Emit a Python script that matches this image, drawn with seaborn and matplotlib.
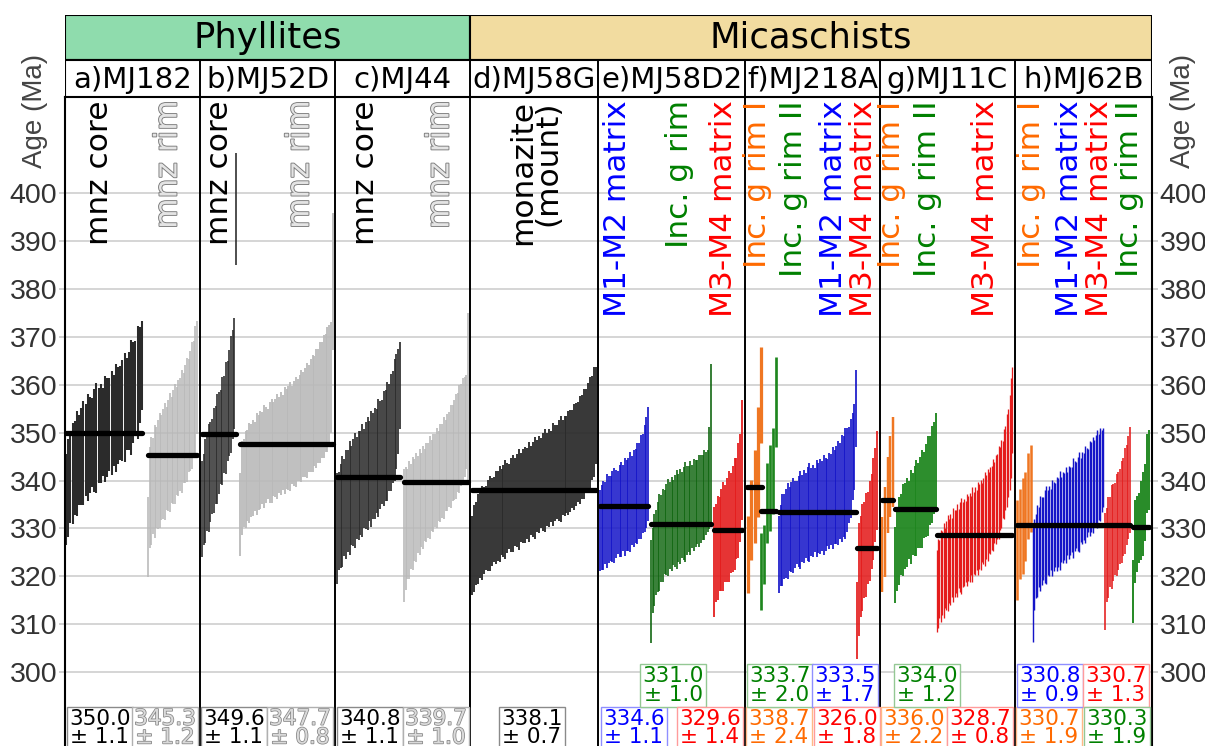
import numpy as np
import pandas as pd
import matplotlib
matplotlib.use("Agg")
import matplotlib.pyplot as plt
import matplotlib.patheffects as pe
from matplotlib.patches import Rectangle
import seaborn as sns

# ---------------- data: ranked spot ages (Ma) and 2-sigma half-widths ----------------
panels = ["a)MJ182", "b)MJ52D", "c)MJ44", "d)MJ58G", "e)MJ58D2", "f)MJ218A", "g)MJ11C", "h)MJ62B"]
rock_types = ["Phyllites", "Micaschists"]
y_ticks = [300, 310, 320, 330, 340, 350, 360, 370, 380, 390, 400]

a_core_age = [336.0, 338.5, 340.2, 341.5, 342.6, 343.5, 344.3, 345.0, 345.7, 346.3, 346.9, 347.4, 347.9, 348.4,
              348.9, 349.3, 349.8, 350.2, 350.7, 351.1, 351.6, 352.0, 352.5, 353.0, 353.5, 354.0, 354.6, 355.2,
              355.9, 356.6, 357.4, 358.3, 359.3, 360.5, 362.0, 364.0]
a_core_err = [9.5, 10.2, 9.0, 10.5, 9.8, 11.0, 9.4, 10.1, 10.8, 9.6, 11.2, 10.0, 9.3, 10.7, 11.5, 9.9, 10.4, 9.2,
              11.0, 10.3, 9.7, 10.9, 9.5, 11.3, 10.1, 9.8, 10.6, 11.4, 9.6, 10.2, 12.0, 10.5, 9.9, 11.8, 10.0, 9.2]
a_rim_age = [328.2, 336.5, 337.8, 338.9, 339.8, 340.6, 341.3, 342.0, 342.7, 343.4, 344.0, 344.6, 345.2, 345.8,
             346.4, 347.0, 347.6, 348.2, 348.9, 349.6, 350.3, 351.0, 351.8, 352.6, 353.5, 354.5, 355.6, 357.0,
             358.8, 361.5]
a_rim_err = [8.4, 10.5, 11.2, 10.0, 11.8, 10.6, 11.4, 12.0, 10.9, 11.5, 12.2, 10.8, 11.6, 12.4, 11.1, 11.9, 12.6,
             11.3, 12.1, 11.7, 12.8, 11.5, 12.3, 13.0, 11.8, 12.5, 13.2, 12.0, 13.4, 11.8]
b_core_age = [334.0, 336.0, 337.8, 339.2, 340.5, 341.8, 343.0, 344.2, 345.4, 346.6, 347.8, 349.0, 350.3, 351.6,
              353.0, 354.5, 356.2, 358.0, 360.0, 362.3, 396.6]
b_core_err = [10.0, 9.5, 10.8, 9.8, 11.2, 10.4, 9.9, 11.0, 10.2, 11.5, 10.6, 9.8, 11.3, 10.1, 11.7, 10.5, 11.0,
              12.2, 11.4, 11.6, 11.7]
b_rim_age = [332.9, 338.5, 339.5, 340.3, 341.0, 341.6, 342.1, 342.6, 343.0, 343.4, 343.8, 344.2, 344.6, 345.0,
             345.3, 345.6, 345.9, 346.2, 346.5, 346.8, 347.1, 347.4, 347.7, 348.0, 348.3, 348.6, 348.9, 349.2,
             349.5, 349.8, 350.1, 350.5, 350.9, 351.3, 351.7, 352.1, 352.5, 353.0, 353.5, 354.0, 354.5, 355.0,
             355.6, 356.2, 356.8, 357.5, 358.2, 359.0, 360.0, 361.5, 381.5]
b_rim_err = [8.7, 9.8, 9.2, 10.1, 9.5, 10.4, 9.7, 10.0, 9.3, 10.6, 9.9, 10.2, 9.6, 10.8, 10.0, 9.4, 10.5, 10.9,
             9.8, 10.3, 11.0, 10.1, 10.7, 9.9, 11.2, 10.4, 10.8, 11.3, 10.2, 11.0, 11.5, 10.6, 11.1, 11.7, 10.9,
             11.4, 12.0, 11.2, 11.8, 12.2, 11.5, 12.4, 11.9, 12.6, 12.1, 12.9, 12.3, 13.0, 12.5, 11.5, 14.2]
c_core_age = [330.0, 331.5, 332.6, 333.5, 334.3, 335.0, 335.7, 336.3, 336.9, 337.5, 338.0, 338.5, 339.0, 339.5,
              340.0, 340.5, 341.0, 341.5, 342.0, 342.5, 343.0, 343.5, 344.1, 344.7, 345.3, 345.9, 346.6, 347.3,
              348.1, 349.0, 350.0, 351.2, 352.6, 354.3, 356.5, 359.8]
c_core_err = [11.5, 10.2, 10.8, 11.6, 10.1, 11.3, 10.7, 11.9, 10.4, 11.1, 12.0, 10.6, 11.4, 10.9, 11.7, 10.3,
              11.2, 11.8, 10.5, 12.1, 11.0, 11.6, 10.8, 12.3, 11.3, 10.9, 12.0, 11.5, 12.4, 11.1, 12.2, 11.7,
              12.8, 12.0, 11.0, 9.1]
c_rim_age = [328.5, 330.0, 331.0, 331.8, 332.5, 333.2, 333.8, 334.4, 335.0, 335.5, 336.0, 336.5, 337.0, 337.5,
             338.0, 338.5, 339.0, 339.5, 340.0, 340.5, 341.0, 341.5, 342.0, 342.6, 343.2, 343.8, 344.4, 345.0,
             345.7, 346.4, 347.1, 347.9, 348.7, 349.5, 350.3, 351.2, 352.2, 357.5]
c_rim_err = [13.9, 12.8, 11.5, 12.3, 10.9, 11.8, 10.6, 11.4, 10.2, 11.0, 9.8, 10.7, 9.6, 10.4, 9.9, 10.8, 9.5,
             10.3, 9.7, 10.5, 9.4, 10.2, 9.8, 10.6, 9.5, 10.1, 9.9, 10.7, 10.0, 10.5, 10.9, 10.3, 11.2, 10.6,
             11.0, 10.4, 9.8, 17.4]
d_mnz_age = [324.3, 325.8, 326.9, 327.8, 328.5, 329.1, 329.6, 330.1, 330.6, 331.0, 331.4, 331.8, 332.2, 332.6,
             333.0, 333.4, 333.7, 334.0, 334.3, 334.6, 334.9, 335.2, 335.5, 335.8, 336.1, 336.4, 336.7, 337.0,
             337.3, 337.6, 337.9, 338.2, 338.5, 338.8, 339.1, 339.4, 339.7, 340.0, 340.3, 340.6, 340.9, 341.2,
             341.5, 341.8, 342.1, 342.4, 342.7, 343.0, 343.3, 343.7, 344.1, 344.5, 344.9, 345.4, 345.9, 346.4,
             347.0, 347.6, 348.3, 349.1, 350.0, 351.0, 352.2, 353.6]
d_mnz_err = [8.2, 9.0, 8.6, 9.4, 8.8, 9.8, 9.1, 8.7, 9.5, 9.9, 9.2, 8.9, 9.7, 9.3, 10.1, 9.0, 9.6, 10.3, 9.4,
             8.8, 9.9, 10.2, 9.1, 9.7, 10.5, 9.3, 9.8, 10.0, 9.5, 10.4, 9.2, 9.9, 10.6, 9.6, 10.1, 9.4, 10.3,
             10.8, 9.7, 10.2, 9.5, 10.7, 10.0, 9.8, 10.5, 11.0, 9.9, 10.4, 10.1, 10.9, 10.6, 10.2, 11.1, 10.7,
             10.4, 11.3, 10.9, 11.5, 10.8, 11.2, 11.6, 10.9, 11.4, 10.1]
e_m12_age = [329.6, 330.2, 330.7, 331.1, 331.5, 331.8, 332.1, 332.4, 332.7, 333.0, 333.3, 333.6, 333.9, 334.2,
             334.5, 334.8, 335.1, 335.5, 335.9, 336.3, 336.8, 337.3, 337.9, 338.6, 339.4, 340.4, 341.7, 343.5]
e_m12_err = [8.4, 8.9, 9.3, 8.6, 9.8, 9.1, 8.8, 9.5, 10.0, 9.2, 8.7, 9.6, 9.9, 9.0, 10.2, 9.4, 9.7, 10.4, 9.3,
             10.1, 9.8, 10.6, 10.0, 10.9, 10.3, 11.2, 11.6, 11.9]
e_inc_age = [316.9, 321.2, 323.5, 325.0, 326.2, 327.1, 327.9, 328.6, 329.2, 329.7, 330.2, 330.6, 331.0, 331.3,
             331.6, 331.9, 332.2, 332.5, 332.8, 333.1, 333.4, 333.7, 334.0, 334.3, 334.6, 334.9, 335.2, 335.5,
             335.8, 336.1, 336.5, 336.9, 337.3, 337.8, 340.5, 347.5]
e_inc_err = [10.7, 8.8, 9.6, 8.9, 9.4, 10.1, 9.0, 9.7, 8.8, 9.5, 10.2, 9.1, 9.8, 8.9, 9.6, 10.3, 9.2, 9.9, 9.0,
             9.7, 10.4, 9.3, 9.0, 9.8, 8.7, 9.5, 9.1, 8.8, 9.6, 9.2, 8.9, 9.4, 8.6, 8.5, 10.7, 16.9]
e_m34_age = [323.0, 324.8, 325.9, 326.8, 327.6, 328.3, 329.0, 329.7, 330.4, 331.2, 332.0, 333.0, 334.2, 335.8,
             338.5, 344.3]
e_m34_err = [11.4, 10.2, 10.9, 9.8, 10.6, 11.3, 10.1, 10.8, 11.5, 10.4, 11.0, 11.7, 10.6, 12.0, 11.3, 12.5]
f_inc1_age = [324.5, 331.8, 336.7, 343.9, 357.9]
f_inc1_err = [8.0, 8.4, 9.7, 11.5, 10.0]
f_inc2_age = [321.0, 324.6, 335.3, 338.5, 342.0, 356.4]
f_inc2_err = [8.0, 6.2, 8.3, 9.0, 8.9, 9.4]
f_m12_age = [324.5, 326.4, 327.5, 328.3, 329.0, 329.5, 329.9, 330.3, 330.6, 330.9, 331.2, 331.5, 331.8, 332.1,
             332.4, 332.7, 333.0, 333.3, 333.5, 333.7, 333.9, 334.1, 334.3, 334.5, 334.7, 334.9, 335.1, 335.4,
             335.7, 336.0, 336.3, 336.6, 337.0, 337.4, 337.8, 338.3, 338.8, 339.4, 340.1, 341.1, 342.5, 345.0,
             347.0, 355.0]
f_m12_err = [8.0, 8.5, 9.6, 8.8, 9.3, 10.0, 8.7, 9.4, 9.9, 9.1, 8.6, 9.5, 10.2, 9.0, 9.7, 8.9, 9.8, 10.3, 9.2,
             9.6, 8.8, 10.1, 9.4, 9.9, 9.3, 10.4, 9.7, 9.1, 10.0, 9.5, 10.6, 9.8, 10.2, 10.9, 10.0, 11.2, 10.5,
             11.6, 10.8, 10.0, 10.4, 9.0, 9.0, 8.0]
f_m34_age = [310.8, 319.3, 322.0, 324.0, 325.5, 326.6, 328.0, 329.5, 331.5, 334.0, 337.0, 340.0]
f_m34_err = [8.1, 11.8, 10.5, 11.2, 10.0, 10.8, 9.6, 10.4, 9.9, 10.6, 9.8, 10.4]
g_inc1_age = [324.6, 329.3, 337.0, 340.8, 343.9]
g_inc1_err = [7.8, 9.4, 8.0, 8.4, 9.4]
g_inc2_age = [322.4, 325.6, 327.4, 328.7, 329.7, 330.5, 331.2, 331.8, 332.4, 333.0, 333.6, 334.2, 334.8, 335.5,
              336.2, 337.0, 337.9, 338.9, 340.0, 341.2, 342.6, 344.3]
g_inc2_err = [8.0, 8.7, 9.2, 8.4, 9.6, 8.9, 9.3, 8.2, 9.8, 8.6, 9.4, 10.0, 8.8, 9.5, 10.2, 9.0, 9.7, 10.4, 9.3,
              10.1, 9.6, 9.8]
g_m34_age = [317.0, 318.5, 319.4, 320.1, 320.7, 321.3, 321.8, 322.3, 322.8, 323.2, 323.6, 324.0, 324.4, 324.8,
             325.2, 325.5, 325.8, 326.1, 326.4, 326.7, 327.0, 327.3, 327.6, 327.9, 328.2, 328.5, 328.8, 329.1,
             329.4, 329.7, 330.0, 330.4, 330.8, 331.2, 331.6, 332.0, 332.4, 332.8, 333.3, 333.8, 334.3, 334.8,
             335.4, 336.0, 336.7, 337.5, 338.3, 339.2, 340.2, 341.3, 342.6, 344.1, 345.8, 348.0, 351.0, 354.7]
g_m34_err = [8.5, 9.2, 8.1, 9.6, 8.8, 9.9, 8.4, 9.3, 10.1, 8.7, 9.5, 8.2, 9.8, 9.0, 8.6, 9.7, 8.3, 9.4, 10.0,
             8.9, 9.1, 8.5, 9.6, 8.8, 9.3, 8.2, 9.9, 8.6, 9.2, 8.4, 9.7, 8.9, 9.4, 8.3, 9.0, 9.8, 8.7, 9.5, 8.4,
             9.1, 8.8, 9.6, 8.5, 9.3, 8.9, 9.8, 8.6, 9.2, 8.1, 9.4, 8.8, 9.7, 9.2, 9.9, 10.4, 9.0]
h_inc1_age = [325.5, 328.8, 330.6, 332.5, 336.7, 338.3]
h_inc1_err = [10.4, 9.4, 10.0, 9.2, 9.0, 9.1]
h_m12_age = [318.4, 322.5, 324.2, 325.3, 326.1, 326.8, 327.4, 327.9, 328.3, 328.7, 329.1, 329.5, 329.8, 330.1,
             330.4, 330.7, 331.0, 331.3, 331.6, 331.9, 332.2, 332.5, 332.8, 333.1, 333.4, 333.7, 334.0, 334.3,
             334.6, 334.9, 335.2, 335.5, 335.9, 336.3, 336.7, 337.1, 337.5, 337.9, 338.3, 338.7, 339.1, 339.5,
             339.9, 340.3, 340.8, 341.3, 342.0, 342.7]
h_m12_err = [12.0, 9.5, 8.8, 9.6, 8.4, 9.9, 9.1, 8.6, 9.7, 10.2, 8.9, 9.4, 8.5, 10.0, 9.2, 8.7, 9.8, 9.3, 10.3,
             8.8, 9.5, 9.0, 10.1, 8.6, 9.7, 9.2, 8.9, 10.4, 9.4, 9.0, 9.8, 10.5, 8.8, 9.6, 9.1, 10.2, 9.3, 8.7,
             9.9, 9.4, 10.0, 8.9, 9.5, 10.3, 9.0, 9.7, 8.6, 8.2]
h_m34_age = [321.0, 324.5, 326.0, 327.2, 328.2, 329.1, 329.9, 330.7, 331.5, 332.4, 333.4, 334.5, 335.7, 337.0,
             338.5, 340.1]
h_m34_err = [12.2, 9.8, 10.5, 9.4, 10.9, 10.1, 9.6, 10.7, 10.2, 9.9, 10.6, 10.3, 11.0, 10.4, 10.8, 11.1]
h_inc2_age = [316.9, 327.3, 328.8, 330.1, 331.6, 333.0, 335.4, 341.5, 342.2]
h_inc2_err = [6.6, 8.6, 7.9, 7.3, 8.2, 8.8, 8.0, 8.3, 8.4]

# weighted mean ages and uncertainties shown in the boxes
group_names = ["a_core", "a_rim", "b_core", "b_rim", "c_core", "c_rim", "d_mnz",
               "e_m12", "e_inc", "e_m34", "f_inc1", "f_inc2", "f_m12", "f_m34",
               "g_inc1", "g_inc2", "g_m34", "h_inc1", "h_m12", "h_m34", "h_inc2"]
mean_age = [350.0, 345.3, 349.6, 347.7, 340.8, 339.7, 338.1,
            334.6, 331.0, 329.6, 338.7, 333.7, 333.5, 326.0,
            336.0, 334.0, 328.7, 330.7, 330.8, 330.7, 330.3]
mean_err = [1.1, 1.2, 1.1, 0.8, 1.1, 1.0, 0.7,
            1.1, 1.0, 1.4, 2.4, 2.0, 1.7, 1.8,
            2.2, 1.2, 0.8, 1.9, 0.9, 1.3, 1.9]
group_kind = ["core", "rim", "core", "rim", "core", "rim", "core",
              "blue", "dkgreen", "red", "orange", "green", "blue", "red",
              "orange", "green", "red", "orange", "blue", "red", "green"]

spot_age = {"a_core": a_core_age, "a_rim": a_rim_age, "b_core": b_core_age, "b_rim": b_rim_age,
            "c_core": c_core_age, "c_rim": c_rim_age, "d_mnz": d_mnz_age, "e_m12": e_m12_age,
            "e_inc": e_inc_age, "e_m34": e_m34_age, "f_inc1": f_inc1_age, "f_inc2": f_inc2_age,
            "f_m12": f_m12_age, "f_m34": f_m34_age, "g_inc1": g_inc1_age, "g_inc2": g_inc2_age,
            "g_m34": g_m34_age, "h_inc1": h_inc1_age, "h_m12": h_m12_age, "h_m34": h_m34_age,
            "h_inc2": h_inc2_age}
spot_err = {"a_core": a_core_err, "a_rim": a_rim_err, "b_core": b_core_err, "b_rim": b_rim_err,
            "c_core": c_core_err, "c_rim": c_rim_err, "d_mnz": d_mnz_err, "e_m12": e_m12_err,
            "e_inc": e_inc_err, "e_m34": e_m34_err, "f_inc1": f_inc1_err, "f_inc2": f_inc2_err,
            "f_m12": f_m12_err, "f_m34": f_m34_err, "g_inc1": g_inc1_err, "g_inc2": g_inc2_err,
            "g_m34": g_m34_err, "h_inc1": h_inc1_err, "h_m12": h_m12_err, "h_m34": h_m34_err,
            "h_inc2": h_inc2_err}

# rotated domain labels
domain_text = ["mnz core", "mnz rim", "mnz core", "mnz rim", "mnz core", "mnz rim", "monazite\n(mount)",
               "M1-M2 matrix", "Inc. g rim", "M3-M4 matrix",
               "Inc. g rim I", "Inc. g rim II", "M1-M2 matrix", "M3-M4 matrix",
               "Inc. g rim I", "Inc. g rim II", "M3-M4 matrix",
               "Inc. g rim I", "M1-M2 matrix", "M3-M4 matrix", "Inc. g rim II"]
domain_kind = ["core", "rim", "core", "rim", "core", "rim", "core",
               "blue", "green", "red", "orange", "green", "blue", "red",
               "orange", "green", "red", "orange", "blue", "red", "green"]

# ---------------- layout (pixel-like x units, independent of the data) ----------------
X0, X1 = 65, 1152
panel_edges = [65, 200, 335, 470, 598, 745, 880, 1015, 1152]
group_span = {"a_core": (65, 143), "a_rim": (147, 198), "b_core": (201, 237), "b_rim": (239, 334),
              "c_core": (336, 401), "c_rim": (403, 469), "d_mnz": (471, 597), "e_m12": (599, 649),
              "e_inc": (650, 712), "e_m34": (713, 743), "f_inc1": (746, 763), "f_inc2": (760, 777),
              "f_m12": (778, 857), "f_m34": (856, 878), "g_inc1": (881, 894), "g_inc2": (894, 937),
              "g_m34": (936, 1013), "h_inc1": (1016, 1032), "h_m12": (1032, 1104), "h_m34": (1104, 1131),
              "h_inc2": (1132, 1150)}
box_pos = {"a_core": (100, 0), "a_rim": (165, 0), "b_core": (234, 0), "b_rim": (300, 0), "c_core": (370, 0),
           "c_rim": (436, 0), "d_mnz": (532, 0), "e_m12": (634, 0), "e_inc": (673, 1), "e_m34": (710, 0),
           "f_inc1": (779, 0), "f_inc2": (780, 1), "f_m12": (845, 1), "f_m34": (847, 0),
           "g_inc1": (914, 0), "g_inc2": (927, 1), "g_m34": (980, 0), "h_inc1": (1049, 0),
           "h_m12": (1050, 1), "h_m34": (1116, 1), "h_inc2": (1117, 0)}
label_x = [100, 168, 220, 300, 365, 440, 535, 617, 680, 724, 758, 793, 833, 863, 892, 927, 985,
           1032, 1070, 1100, 1130]

style = {
    "core":    dict(bar="#2b2b2b", text="black",   edge="#8a8a8a"),
    "rim":     dict(bar="#b9b9b9", text="#e4e4e4", edge="#b0b0b0"),
    "blue":    dict(bar="#1414c8", text="#0000ff", edge="#8f8fff"),
    "dkgreen": dict(bar="#0f650f", text="#008000", edge="#94c894"),
    "green":   dict(bar="#1e861e", text="#008000", edge="#94c894"),
    "red":     dict(bar="#e41c1c", text="#ff0000", edge="#ff9c9c"),
    "orange":  dict(bar="#ef7622", text="#ff6a00", edge="#ffb886"),
}
hollow = [pe.withStroke(linewidth=1.3, foreground="#7a7a7a")]

# ---------------- figure ----------------
sns.set_theme(style="white")
plt.rcParams["font.family"] = ["DejaVu Sans"]
plt.rcParams["text.color"] = "black"

W, H = 1205, 746
PX = 4.794          # pixels per Ma
YTOP, YBOT = 420, 280
top_px = 97
bot_px = top_px + (YTOP - YBOT) * PX
fig = plt.figure(figsize=(W / 100, H / 100), dpi=100)
ax = fig.add_axes([X0 / W, 1 - bot_px / H, (X1 - X0) / W, (bot_px - top_px) / H])
ax.set_xlim(X0, X1)
ax.set_ylim(YBOT, YTOP)

# grid
for t in y_ticks:
    ax.axhline(t, color="#d2d2d2", lw=1.3, zorder=0)

# bars
mean_rows = []
for name, kind, m in zip(group_names, group_kind, mean_age):
    ages = np.array(spot_age[name])
    errs = np.array(spot_err[name])
    x0, x1 = group_span[name]
    n = len(ages)
    s = (x1 - x0) / n
    xs = x0 + s / 2 + s * np.arange(n)
    lw = min(0.95 * s * 0.72, 2.8)
    ax.vlines(xs, ages - errs, ages + errs, color=style[kind]["bar"], lw=lw, zorder=2)
    mean_rows.append({"grp": name, "x": x0 + 1, "age": m})
    mean_rows.append({"grp": name, "x": x1 - 1, "age": m})

mean_df = pd.DataFrame(mean_rows)
sns.lineplot(data=mean_df, x="x", y="age", units="grp", estimator=None, sort=False,
             color="black", lw=3.8, ax=ax, legend=False, zorder=4)
for ln in ax.lines:
    ln.set_solid_capstyle("round")
ax.set_xlabel("")
ax.set_ylabel("")

# panel dividers
for xe in panel_edges[1:-1]:
    ax.axvline(xe, color="black", lw=1.4, zorder=5)
for sp in ["left", "right", "top"]:
    ax.spines[sp].set_visible(True)
    ax.spines[sp].set_color("black")
    ax.spines[sp].set_linewidth(1.5)
ax.spines["bottom"].set_visible(False)

# ticks
ax.set_xticks([])
ax.set_yticks(y_ticks, labels=[str(t) for t in y_ticks], fontfamily="Liberation Sans",
              fontsize=20.5, color="#333333")
ax.tick_params(axis="y", left=True, right=True, labelleft=True, labelright=True,
               length=4, width=1.2, color="#c8c8c8", pad=1.5)

# domain labels (rotated)
for txt, kind, xl in zip(domain_text, domain_kind, label_x):
    kw = dict(rotation=90, ha="center", va="top", fontsize=22.5, color=style[kind]["text"],
              linespacing=0.85, multialignment="right", zorder=6)
    if kind == "rim":
        kw["path_effects"] = hollow
    ax.text(xl, YTOP - 0.7, txt, **kw)

# mean boxes
row_y = {1: 301.3, 0: 292.4}
for name, kind, m, e in zip(group_names, group_kind, mean_age, mean_err):
    xc, row = box_pos[name]
    kw = dict(ha="center", va="top", fontsize=15.5, linespacing=0.92, color=style[kind]["text"],
              bbox=dict(boxstyle="square,pad=0.1", fc="white", ec=style[kind]["edge"], lw=1.0), zorder=7)
    if kind == "rim":
        kw["color"] = "#dadada"
        kw["path_effects"] = [pe.withStroke(linewidth=1.1, foreground="#858585")]
    ax.text(xc, row_y[row], f"{m:.1f}\n± {e:.1f}", **kw)

# header rows
hax = fig.add_axes([X0 / W, 1 - top_px / H, (X1 - X0) / W, (top_px - 15) / H])
hax.set_xlim(X0, X1)
hax.set_ylim(top_px, 15)
hax.axis("off")
hax.add_patch(Rectangle((65, 15), 470 - 65, 45, fc="#8fdcad", ec="black", lw=1.5))
hax.add_patch(Rectangle((470, 15), 1152 - 470, 45, fc="#f2dca0", ec="black", lw=1.5))
hax.add_patch(Rectangle((65, 60), 1152 - 65, 37, fc="white", ec="black", lw=1.5))
hax.text((65 + 470) / 2, 38, rock_types[0], ha="center", va="center", fontsize=25.5, color="black")
hax.text((470 + 1152) / 2, 38, rock_types[1], ha="center", va="center", fontsize=25.5, color="black")
for xe in panel_edges[1:-1]:
    hax.plot([xe, xe], [60, 97], color="black", lw=1.4)
for i, p in enumerate(panels):
    hax.text((panel_edges[i] + panel_edges[i + 1]) / 2, 79.5, p, ha="center", va="center",
             fontsize=21, color="black")

# axis titles on both sides
for xa in (35, 1183):
    fig.text(xa / W, 1 - 111 / H, "Age (Ma)", rotation=90, ha="center", va="center",
             fontsize=20, color="#444444", fontfamily="Liberation Sans")

fig.savefig("out.png", dpi=100)
